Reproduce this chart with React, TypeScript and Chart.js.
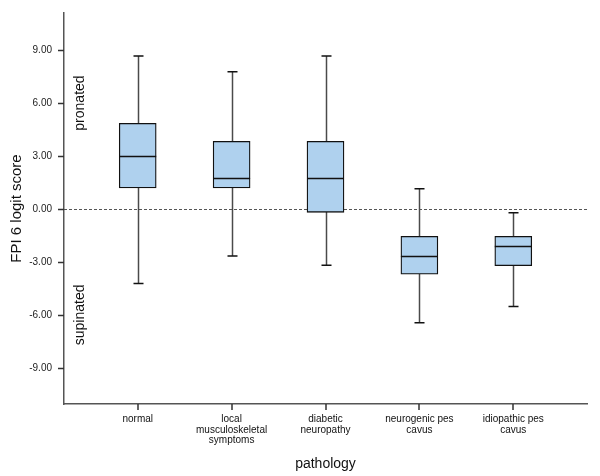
import React, { useEffect, useRef } from "react";
import { Chart, registerables } from "chart.js";

Chart.register(...registerables);

// ---- data ----
const categories: string[][] = [
  ["normal"],
  ["local", "musculoskeletal", "symptoms"],
  ["diabetic", "neuropathy"],
  ["neurogenic pes", "cavus"],
  ["idiopathic pes", "cavus"],
];
const whiskerLow = [-4.23, -2.66, -3.19, -6.45, -5.53];
const q1 = [1.19, 1.19, -0.19, -3.7, -3.21];
const median = [2.98, 1.77, 1.77, -2.66, -2.11];
const q3 = [4.85, 3.83, 3.83, -1.55, -1.55];
const whiskerHigh = [8.66, 7.77, 8.66, 1.15, -0.21];
const yTicks = [-9, -6, -3, 0, 3, 6, 9];
const sideLabels = [
  { text: "pronated", value: 6 },
  { text: "supinated", value: -6 },
];

const FONT = "'Liberation Sans', Arial, Helvetica, sans-serif";
const TICK_LEN = 6;

const boxPlugin = {
  id: "boxExtras",
  beforeDatasetsDraw(chart: any) {
    const { ctx, chartArea, scales } = chart;
    const x = scales.x;
    const y = scales.y;
    ctx.save();
    ctx.strokeStyle = "#555";
    ctx.lineWidth = 1;
    ctx.setLineDash([3, 2]);
    const y0 = Math.round(y.getPixelForValue(0)) + 0.5;
    ctx.beginPath();
    ctx.moveTo(chartArea.left, y0);
    ctx.lineTo(chartArea.right, y0);
    ctx.stroke();
    ctx.setLineDash([]);
    categories.forEach((_, i) => {
      const px = Math.round(x.getPixelForValue(i)) + 0.5;
      const yl = y.getPixelForValue(whiskerLow[i]);
      const yh = y.getPixelForValue(whiskerHigh[i]);
      ctx.strokeStyle = "#4a4a4a";
      ctx.lineWidth = 1.5;
      ctx.beginPath();
      ctx.moveTo(px, yl);
      ctx.lineTo(px, yh);
      ctx.stroke();
      ctx.strokeStyle = "#111";
      ctx.beginPath();
      ctx.moveTo(px - 5, yl);
      ctx.lineTo(px + 5, yl);
      ctx.moveTo(px - 5, yh);
      ctx.lineTo(px + 5, yh);
      ctx.stroke();
    });
    ctx.fillStyle = "#111";
    ctx.font = `14px ${FONT}`;
    ctx.textAlign = "center";
    ctx.textBaseline = "middle";
    sideLabels.forEach((l) => {
      ctx.save();
      ctx.translate(chartArea.left + 16, y.getPixelForValue(l.value));
      ctx.rotate(-Math.PI / 2);
      ctx.fillText(l.text, 0, 0);
      ctx.restore();
    });
    ctx.restore();
  },
  afterDatasetsDraw(chart: any) {
    const { ctx, scales } = chart;
    const y = scales.y;
    const meta = chart.getDatasetMeta(0);
    ctx.save();
    ctx.strokeStyle = "#111";
    ctx.lineWidth = 1.5;
    meta.data.forEach((el: any, i: number) => {
      const py = Math.round(y.getPixelForValue(median[i])) + 0.5;
      ctx.beginPath();
      ctx.moveTo(el.x - el.width / 2, py);
      ctx.lineTo(el.x + el.width / 2, py);
      ctx.stroke();
    });
    ctx.restore();
  },
  afterDraw(chart: any) {
    const { ctx, chartArea, scales } = chart;
    const x = scales.x;
    const y = scales.y;
    ctx.save();
    ctx.fillStyle = "#333";
    x.ticks.forEach((t: any) => {
      const px = Math.round(x.getPixelForValue(t.value));
      ctx.fillRect(px - 0.75, chartArea.bottom, 1.5, TICK_LEN);
    });
    y.ticks.forEach((t: any) => {
      const py = Math.round(y.getPixelForValue(t.value));
      ctx.fillRect(chartArea.left - TICK_LEN, py - 0.25, TICK_LEN, 1.5);
    });
    ctx.restore();
  },
};

export default function App() {
  const ref = useRef<HTMLCanvasElement>(null);
  useEffect(() => {
    if (!ref.current) return;
    Chart.defaults.font.family = FONT;
    const chart = new Chart(ref.current, {
      type: "bar",
      data: {
        datasets: [
          {
            data: categories.map((_, i) => ({ x: i, y: [q1[i], q3[i]] })) as any,
            backgroundColor: "#AFD1EE",
            borderColor: "#111",
            borderWidth: 1.3,
            borderSkipped: false,
            barThickness: 37,
            grouped: false,
          } as any,
        ],
      },
      options: {
        animation: false,
        responsive: true,
        maintainAspectRatio: false,
        layout: { padding: { top: 13, right: 13, left: 0, bottom: 0 } },
        plugins: { legend: { display: false }, tooltip: { enabled: false } },
        scales: {
          x: {
            type: "linear",
            min: -0.785,
            max: 4.785,
            offset: false,
            afterBuildTicks: (s: any) => {
              s.ticks = categories.map((_, i) => ({ value: i }));
            },
            afterFit: (s: any) => {
              s.height = 72;
            },
            grid: { offset: false, drawOnChartArea: false, drawTicks: true, tickLength: TICK_LEN, color: "rgba(0,0,0,0)" },
            border: { color: "#555", width: 1.5 },
            ticks: {
              callback: (v: any) => categories[v as number],
              font: { size: 10, lineHeight: 1.05 },
              color: "#111",
              padding: 4,
              maxRotation: 0,
              autoSkip: false,
            },
            title: {
              display: true,
              text: "pathology",
              font: { size: 14 },
              color: "#111",
              padding: { top: 4, bottom: 3 },
            },
          },
          y: {
            min: -11.05,
            max: 11.1,
            afterBuildTicks: (s: any) => {
              s.ticks = yTicks.map((v) => ({ value: v }));
            },
            afterFit: (s: any) => {
              s.width = 64;
            },
            grid: { drawOnChartArea: false, drawTicks: true, tickLength: TICK_LEN, color: "rgba(0,0,0,0)" },
            border: { color: "#555", width: 1.5 },
            ticks: {
              callback: (v: any) => Number(v).toFixed(2),
              font: { size: 10 },
              color: "#222",
              padding: 6,
            },
            title: {
              display: true,
              text: "FPI 6 logit score",
              font: { size: 15 },
              color: "#111",
              padding: { top: 8, bottom: 0 },
            },
          },
        },
      },
      plugins: [boxPlugin],
    });
    return () => chart.destroy();
  }, []);
  return (
    <div style={{ position: "fixed", left: 0, top: 0, width: 600, height: 476, background: "#fff" }}>
      <canvas ref={ref} />
    </div>
  );
}
